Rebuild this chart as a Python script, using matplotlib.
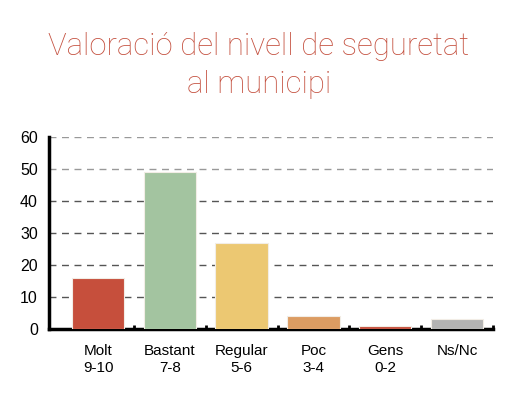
import matplotlib.pyplot as plt
import numpy as np

# ---------------------------------------------------------
# Data
# ---------------------------------------------------------
categories = ["Molt\n9-10", "Bastant\n7-8", "Regular\n5-6", "Poc\n3-4", "Gens\n0-2", "Ns/Nc"]
values = [16, 49, 27, 4, 1, 3]
colors = ["#c64f3c", "#a3c4a0", "#ecc872", "#dc9c62", "#c64f3c", "#b3b3b3"]
title_lines = ["Valoració del nivell de seguretat", "al municipi"]

# ---------------------------------------------------------
# Figure
# ---------------------------------------------------------
plt.rcParams["font.family"] = ["Liberation Sans", "DejaVu Sans"]
fig = plt.figure(figsize=(5.18, 3.95), dpi=100)
ax = fig.add_axes([0.0946, 0.167, 0.857, 0.486])

x = np.arange(len(categories))
ax.bar(x, values, width=0.73, color=colors, edgecolor="#f2ede6", linewidth=0.8, zorder=3)

ax.set_ylim(0, 60)
ax.set_xlim(-0.684, 5.5)
ax.set_yticks(range(0, 61, 10))
ax.set_xticks(x)
ax.set_xticklabels(categories, fontsize=11, linespacing=1.2)
ax.set_xticks(np.arange(0.5, 6, 1), minor=True)
ax.tick_params(axis="x", which="major", length=0, pad=11)
ax.tick_params(axis="x", which="minor", length=3, width=2, direction="in", color="black")
ax.tick_params(axis="y", length=0, labelsize=11.5, pad=8)

# dashed grid
for yv in range(10, 61, 10):
    c = "#999999" if yv >= 50 else "#555555"
    ax.axhline(yv, color=c, linestyle=(0, (5, 4)), linewidth=1, zorder=1)

for side in ["top", "right"]:
    ax.spines[side].set_visible(False)
ax.spines["left"].set_linewidth(2.5)
ax.spines["bottom"].set_linewidth(2.5)

# title, two lines placed on their baselines
for line, ypos in zip(title_lines, [0.861, 0.765]):
    fig.text(0.5, ypos, line, ha="center", va="baseline", fontsize=22.4,
             color="#c4503f", family=["Roboto", "DejaVu Sans"], fontweight="light")

plt.savefig("out.png", dpi=100)
